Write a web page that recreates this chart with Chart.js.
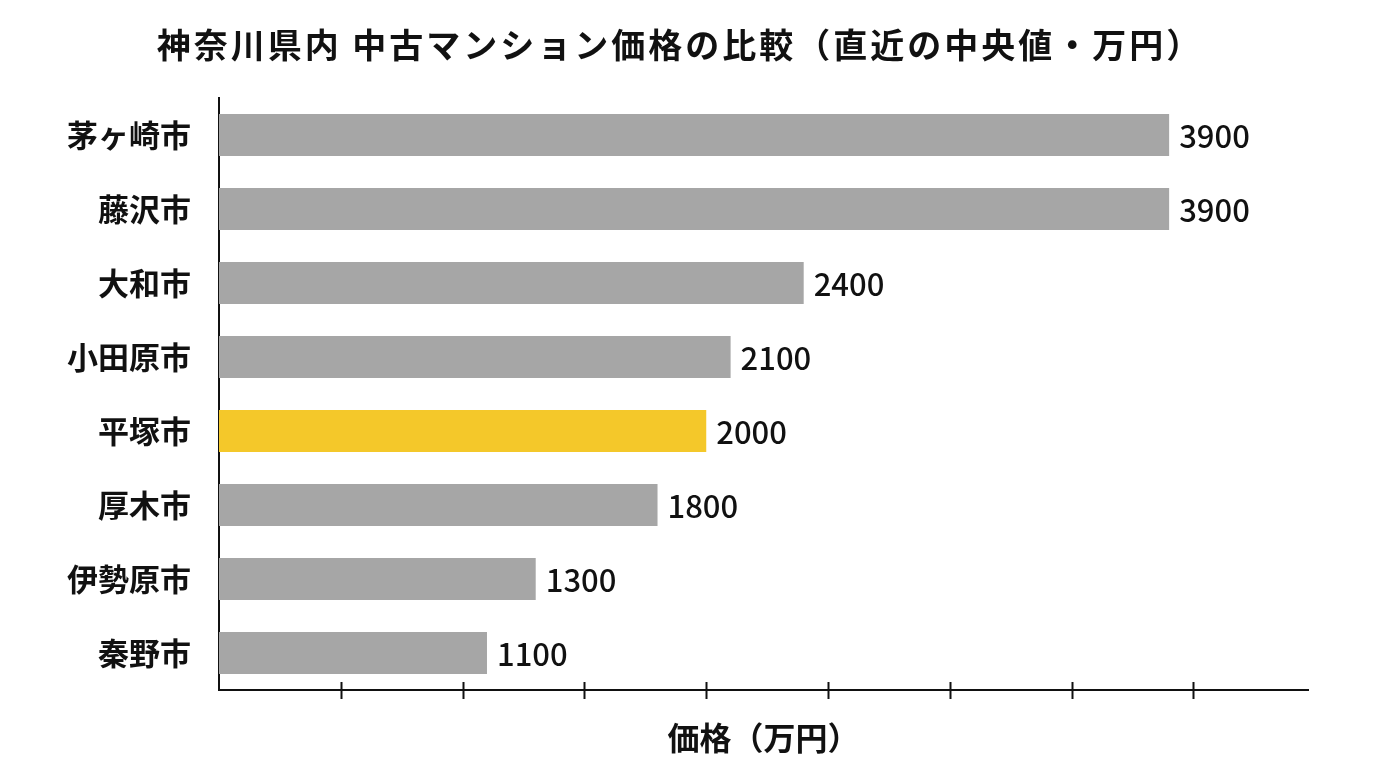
<!DOCTYPE html>
<html lang="ja">
<head>
<meta charset="utf-8">
<script src="https://cdn.jsdelivr.net/npm/chart.js@4"></script>
<style>
  html, body { margin: 0; padding: 0; background: #fff; }
  #wrap { width: 1376px; height: 768px; }
</style>
</head>
<body>
<div id="wrap"><canvas id="grafico" width="1376" height="768"></canvas></div>
<script>
// ================= DADOS =================
const cidades = ["茅ヶ崎市", "藤沢市", "大和市", "小田原市", "平塚市", "厚木市", "伊勢原市", "秦野市"];
const precos = [3900, 3900, 2400, 2100, 2000, 1800, 1300, 1100];
const marcasX = [500, 1000, 1500, 2000, 2500, 3000, 3500, 4000];
const destaque = "平塚市";
const titulo = "神奈川県内 中古マンション価格の比較（直近の中央値・万円）";
const tituloEixoX = "価格（万円）";

const FONTE = '"Noto Sans CJK JP", "Noto Sans", sans-serif';
const cores = cidades.map(c => c === destaque ? "#f4c82a" : "#a6a6a6");

// ================= PLUGINS =================
// título centralizado na largura total do canvas
const tituloTopo = {
  id: "tituloTopo",
  afterDraw(chart) {
    const ctx = chart.ctx;
    ctx.save();
    ctx.font = "bold 34px " + FONTE;
    ctx.letterSpacing = "3px";
    ctx.fillStyle = "#111";
    ctx.textAlign = "center";
    ctx.textBaseline = "middle";
    ctx.fillText(titulo, chart.width / 2 - 8, 45);
    ctx.restore();
  }
};

// rótulos de valor à direita das barras
const rotulos = {
  id: "rotulos",
  afterDatasetsDraw(chart) {
    const ctx = chart.ctx;
    const meta = chart.getDatasetMeta(0);
    ctx.save();
    ctx.font = "500 31px " + FONTE;
    ctx.fillStyle = "#111";
    ctx.textAlign = "left";
    ctx.textBaseline = "middle";
    meta.data.forEach((bar, i) => {
      ctx.fillText(String(precos[i]), bar.x + 10, bar.y + 1);
    });
    ctx.restore();
  }
};

// marcas do eixo X cruzando a linha
const marcas = {
  id: "marcas",
  afterDraw(chart) {
    const x = chart.scales.x;
    const ctx = chart.ctx;
    ctx.save();
    ctx.strokeStyle = "#111";
    ctx.lineWidth = 2;
    marcasX.forEach(v => {
      const px = Math.round(x.getPixelForValue(v)) + 0.5;
      ctx.beginPath();
      ctx.moveTo(px, x.top - 8);
      ctx.lineTo(px, x.top + 9);
      ctx.stroke();
    });
    ctx.restore();
  }
};

// ================= GRÁFICO =================
new Chart(document.getElementById("grafico"), {
  type: "bar",
  data: {
    labels: cidades,
    datasets: [{
      data: precos,
      backgroundColor: cores,
      borderWidth: 0,
      categoryPercentage: 1,
      barPercentage: 0.57
    }]
  },
  options: {
    indexAxis: "y",
    responsive: false,
    animation: false,
    layout: { padding: { top: 98, right: 68, left: 0, bottom: 0 } },
    plugins: {
      legend: { display: false },
      tooltip: { enabled: false },
      title: { display: false }
    },
    scales: {
      x: {
        min: 0,
        max: 4470,
        ticks: { display: false, stepSize: 500 },
        grid: { display: false, drawTicks: false },
        border: { display: true, color: "#111", width: 2 },
        title: {
          display: true,
          text: tituloEixoX,
          color: "#111",
          font: { family: FONTE, size: 32, weight: "bold" },
          padding: { top: 0, bottom: 11 }
        },
        afterFit(scale) { scale.height = 78; }
      },
      y: {
        ticks: {
          color: "#111",
          font: { family: FONTE, size: 31, weight: "bold" },
          padding: 28
        },
        grid: { display: false, drawTicks: false },
        border: { display: true, color: "#111", width: 2 },
        afterFit(scale) { scale.width = 219; }
      }
    }
  },
  plugins: [tituloTopo, rotulos, marcas]
});
</script>
</body>
</html>
